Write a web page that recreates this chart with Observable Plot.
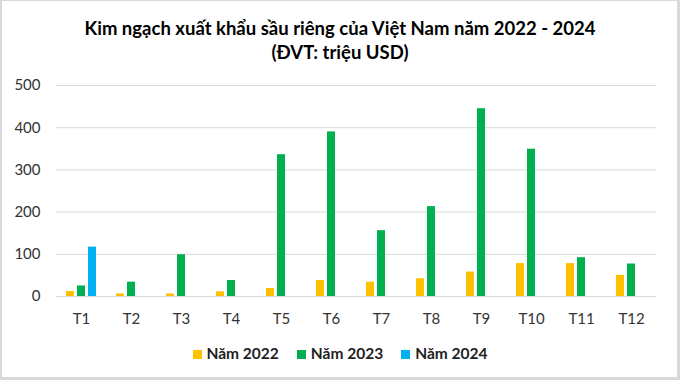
<!DOCTYPE html>
<html><head><meta charset="utf-8">
<script src="https://cdn.jsdelivr.net/npm/d3@7"></script>
<script src="https://cdn.jsdelivr.net/npm/@observablehq/plot@0.6"></script>
<style>
html,body{margin:0;padding:0;}
body{width:680px;height:380px;background:#d9d9d9;position:relative;overflow:hidden;font-family:Lato,"Open Sans",sans-serif;}
#frame{position:absolute;left:2px;top:1px;width:675px;height:376px;background:#fff;}
#title{position:absolute;left:0;top:16px;width:680px;text-align:center;font-weight:bold;font-size:18.5px;line-height:24px;color:#000;}
#chart{position:absolute;left:0;top:70px;}
#legend{position:absolute;left:0;top:344px;width:680px;text-align:center;font-weight:bold;font-size:15.5px;color:#222;}
#legend span.item{display:inline-block;margin:0 9px;}
#legend span.sw{display:inline-block;width:9px;height:9px;margin-right:5px;vertical-align:0px;}
</style></head>
<body>
<div id="frame"></div>
<div id="title">Kim ngạch xuất khẩu sầu riêng của Việt Nam năm 2022 - 2024<br>(ĐVT: triệu USD)</div>
<div id="chart"></div>
<div id="legend"></div>
<script>
const months = ["T1","T2","T3","T4","T5","T6","T7","T8","T9","T10","T11","T12"];
const series = ["Năm 2022","Năm 2023","Năm 2024"];
const colors = ["#FFC000","#00B050","#00B0F0"];
const v2022 = [12,6,6,11,19,38,34,42,58,78,78,50];
const v2023 = [25,34,99,38,336,390,156,213,445,349,92,77];
const v2024 = [117,null,null,null,null,null,null,null,null,null,null,null];
const yTicks = [0,100,200,300,400,500];

const all = [v2022, v2023, v2024];
const data = [];
months.forEach((m, i) => {
  series.forEach((s, j) => {
    if (all[j][i] != null) data.push({month: m, series: s, value: all[j][i]});
  });
});

const plot = Plot.plot({
  width: 680,
  height: 266,
  marginLeft: 52,
  marginRight: 20,
  marginTop: 15,
  marginBottom: 40,
  style: {fontFamily: "Lato, 'Open Sans', sans-serif", fontSize: "15px", color: "#333", background: "transparent"},
  fx: {domain: months, padding: 0, label: null, axis: "bottom", tickSize: 0, tickPadding: 17},
  x: {domain: series, paddingInner: 0.25, paddingOuter: 0.735, axis: null},
  y: {domain: [0, 500], ticks: yTicks, label: null, tickSize: 0, tickPadding: 16},
  color: {domain: series, range: colors},
  marks: [
    Plot.ruleY(yTicks.slice(1), {stroke: "#d9d9d9", strokeWidth: 1}),
    Plot.ruleY([0], {stroke: "#d9d9d9", strokeWidth: 1}),
    Plot.barY(data, {fx: "month", x: "series", y: "value", fill: "series"})
  ]
});
document.getElementById("chart").appendChild(plot);

const lg = document.getElementById("legend");
series.forEach((s, j) => {
  const it = document.createElement("span");
  it.className = "item";
  const sw = document.createElement("span");
  sw.className = "sw";
  sw.style.background = colors[j];
  it.appendChild(sw);
  it.appendChild(document.createTextNode(s));
  lg.appendChild(it);
});
</script>
</body></html>
